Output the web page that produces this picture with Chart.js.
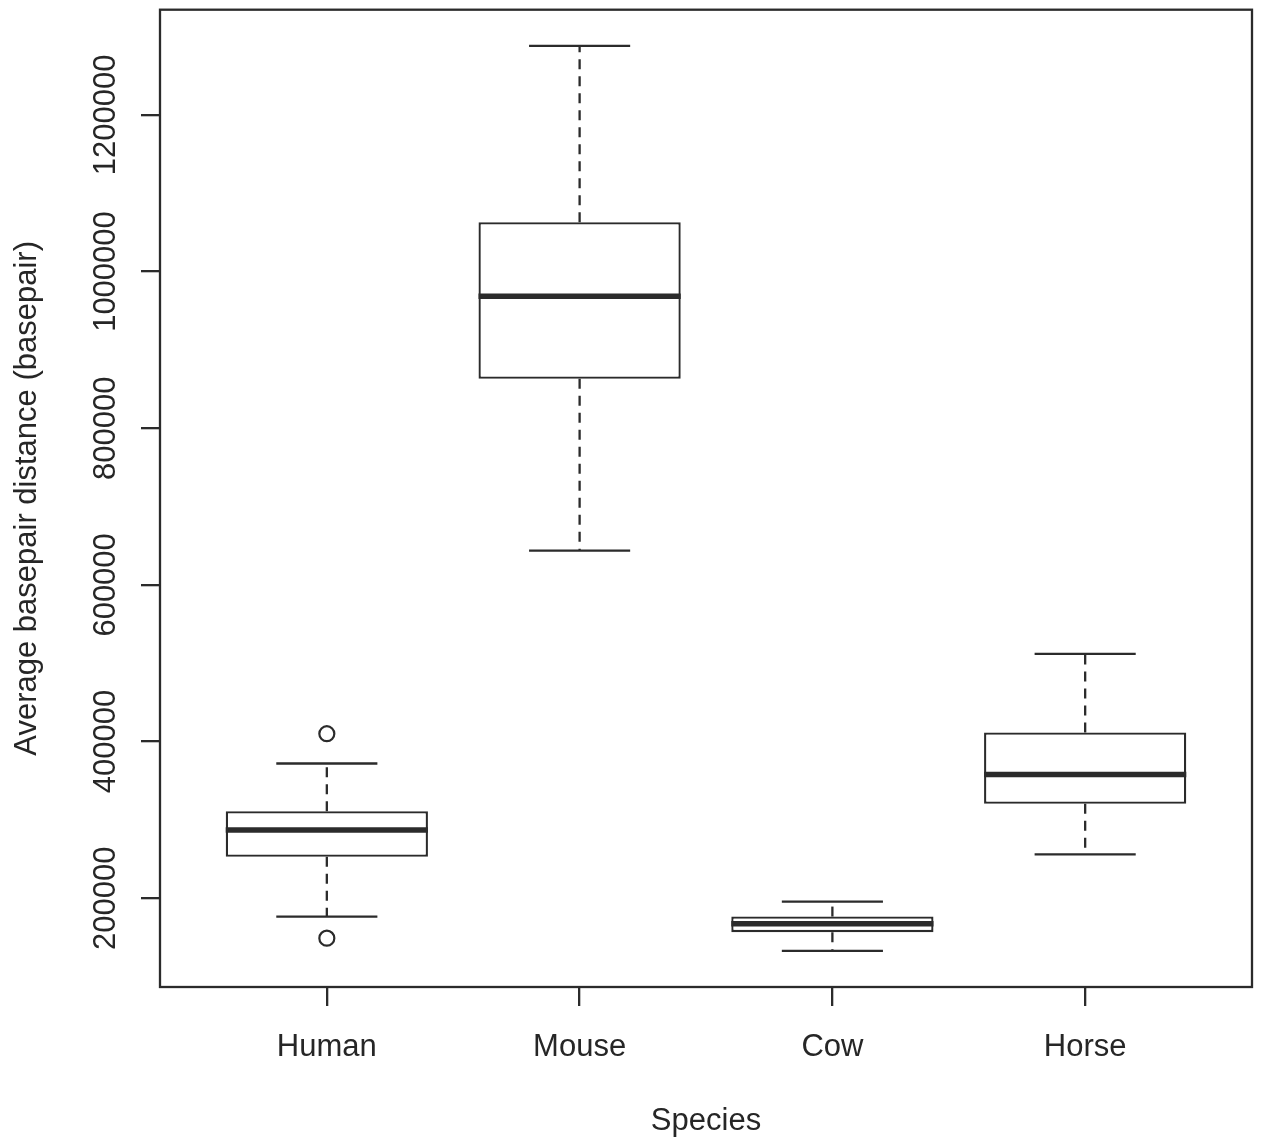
<!DOCTYPE html>
<html>
<head>
<meta charset="utf-8">
<title>Average basepair distance by species</title>
<script src="https://cdn.jsdelivr.net/npm/chart.js@4.4.1/dist/chart.umd.min.js"></script>
<style>
  html, body { margin: 0; padding: 0; background: #fff; }
  #wrap { width: 1262px; height: 1144px; }
</style>
</head>
<body>
<div id="wrap"><canvas id="boxChart" width="1262" height="1144"></canvas></div>
<script>
// values
const species = ['Human', 'Mouse', 'Cow', 'Horse'];
const whiskerLow = [176600, 643700, 132900, 256000];
const q1 = [253000, 863000, 156700, 320500];
const median = [287000, 968500, 167300, 358000];
const q3 = [311000, 1063000, 176600, 411500];
const whiskerHigh = [372000, 1288000, 195700, 512000];

// outliers (only Human has them)
const outlierGroup = [1, 1];
const outlierValue = [410000, 149000];

const yTicks = [200000, 400000, 600000, 800000, 1000000, 1200000];

// R's default 4% padding around the data range
const yMin = 86700, yMax = 1334200;
const xMin = 0.34, xMax = 4.66;

const ink = '#2b2b2b';
const textColor = '#262626';
const family = "'Liberation Sans', Arial, Helvetica, sans-serif";

// whiskers, staples, medians, frame and the upright y labels
const boxPlotExtras = {
    id: 'boxPlotExtras',
    afterDatasetsDraw(chart) {
        const { ctx, scales: { x, y } } = chart;
        ctx.save();
        ctx.strokeStyle = ink;
        ctx.lineCap = 'butt';
        species.forEach((name, i) => {
            const pos = i + 1;
            const cx = x.getPixelForValue(pos);
            const capL = x.getPixelForValue(pos - 0.2);
            const capR = x.getPixelForValue(pos + 0.2);

            ctx.lineWidth = 2.3;
            ctx.setLineDash([10, 7]);
            ctx.beginPath();
            ctx.moveTo(cx, y.getPixelForValue(q3[i]));
            ctx.lineTo(cx, y.getPixelForValue(whiskerHigh[i]));
            ctx.stroke();
            ctx.beginPath();
            ctx.moveTo(cx, y.getPixelForValue(q1[i]));
            ctx.lineTo(cx, y.getPixelForValue(whiskerLow[i]));
            ctx.stroke();

            ctx.setLineDash([]);
            ctx.beginPath();
            [whiskerHigh[i], whiskerLow[i]].forEach(v => {
                const py = y.getPixelForValue(v);
                ctx.moveTo(capL, py);
                ctx.lineTo(capR, py);
            });
            ctx.stroke();

            ctx.lineWidth = 5.5;
            const my = y.getPixelForValue(median[i]);
            ctx.beginPath();
            ctx.moveTo(x.getPixelForValue(pos - 0.4), my);
            ctx.lineTo(x.getPixelForValue(pos + 0.4), my);
            ctx.stroke();
        });
        ctx.restore();
    },
    afterDraw(chart) {
        const { ctx, chartArea: a, scales: { y } } = chart;
        ctx.save();
        ctx.strokeStyle = ink;
        ctx.lineWidth = 2.3;
        ctx.strokeRect(a.left, a.top, a.right - a.left, a.bottom - a.top);

        ctx.fillStyle = textColor;
        ctx.font = '31px ' + family;
        ctx.textAlign = 'center';
        ctx.textBaseline = 'alphabetic';
        y.ticks.forEach(t => {
            ctx.save();
            ctx.translate(a.left - 45, y.getPixelForValue(t.value));
            ctx.rotate(-Math.PI / 2);
            ctx.fillText(String(t.value), 0, 0);
            ctx.restore();
        });
        ctx.restore();
    }
};

const ctx = document.getElementById('boxChart').getContext('2d');
new Chart(ctx, {
    type: 'bar',
    data: {
        datasets: [
            {
                label: 'IQR',
                data: species.map((s, i) => ({ x: i + 1, y: [q1[i], q3[i]] })),
                backgroundColor: '#ffffff',
                borderColor: ink,
                borderWidth: 2.3,
                borderSkipped: false,
                categoryPercentage: 1,
                barPercentage: 0.8
            },
            {
                type: 'scatter',
                label: 'Outliers',
                data: outlierGroup.map((g, i) => ({ x: g, y: outlierValue[i] })),
                pointStyle: 'circle',
                pointRadius: 7.5,
                pointBorderWidth: 2.2,
                pointBorderColor: ink,
                pointBackgroundColor: 'rgba(0,0,0,0)'
            }
        ]
    },
    options: {
        responsive: false,
        animation: false,
        events: [],
        layout: { padding: { top: 8, right: 10, left: 0, bottom: 0 } },
        plugins: {
            legend: { display: false },
            tooltip: { enabled: false }
        },
        scales: {
            x: {
                type: 'linear',
                min: xMin,
                max: xMax,
                offset: false,
                afterBuildTicks: s => { s.ticks = species.map((n, i) => ({ value: i + 1 })); },
                afterFit: s => { s.height = 157; },
                grid: { offset: false, drawOnChartArea: false, drawTicks: true, tickLength: 19, color: ink, lineWidth: 2.3 },
                border: { display: false },
                ticks: {
                    autoSkip: false,
                    maxRotation: 0,
                    padding: 23,
                    color: textColor,
                    font: { family: family, size: 31 },
                    callback: v => species[v - 1]
                },
                title: {
                    display: true,
                    text: 'Species',
                    color: textColor,
                    font: { family: family, size: 31 },
                    padding: { top: 0, bottom: 4 }
                }
            },
            y: {
                type: 'linear',
                min: yMin,
                max: yMax,
                afterBuildTicks: s => { s.ticks = yTicks.map(v => ({ value: v })); },
                afterFit: s => { s.width = 160; },
                grid: { drawOnChartArea: false, drawTicks: true, tickLength: 19, color: ink, lineWidth: 2.3 },
                border: { display: false },
                ticks: { display: false },
                title: {
                    display: true,
                    text: 'Average basepair distance (basepair)',
                    color: textColor,
                    font: { family: family, size: 31 },
                    padding: { top: 9, bottom: 0 }
                }
            }
        }
    },
    plugins: [boxPlotExtras]
});
</script>
</body>
</html>
